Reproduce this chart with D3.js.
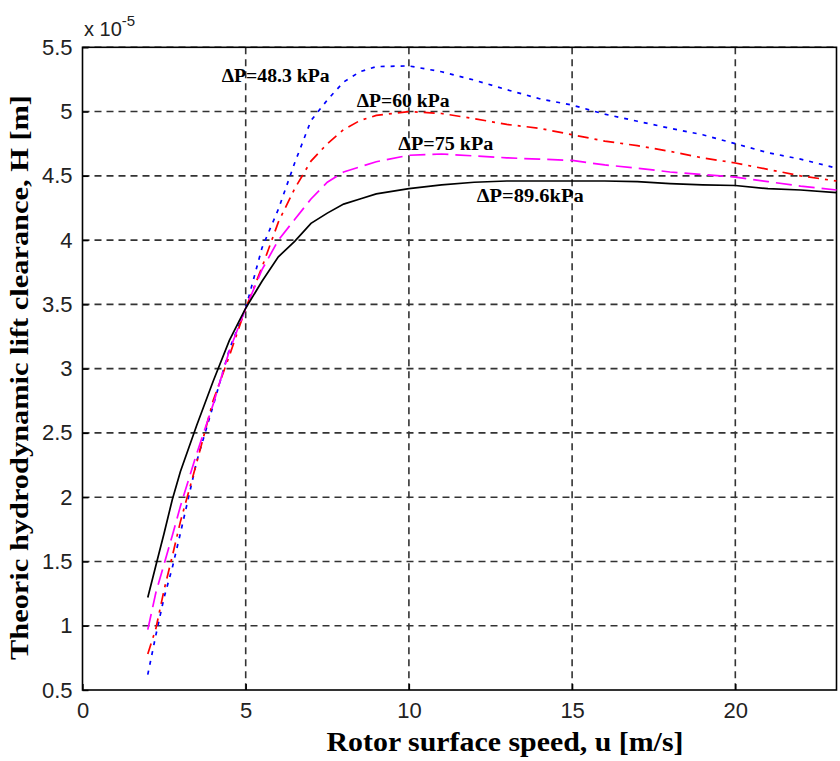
<!DOCTYPE html>
<html><head><meta charset="utf-8">
<script src="https://cdn.jsdelivr.net/npm/d3@7"></script>
<style>body{margin:0;background:#fff}</style>
</head><body>
<svg id="c" width="840" height="761"></svg>
<script>
const speed = [2, 2.25, 2.5, 2.75, 3, 3.5, 4, 4.5, 5, 5.5, 6, 6.5, 7, 7.5, 8, 8.5, 9, 10, 11, 12, 13, 14, 15, 16, 17, 18, 19, 20, 21, 22, 23.1];
const h483 = [0.62, 0.93, 1.22, 1.45, 1.72, 2.28, 2.71, 3.15, 3.47, 3.94, 4.24, 4.60, 4.93, 5.09, 5.23, 5.31, 5.35, 5.355, 5.31, 5.245, 5.17, 5.10, 5.05, 4.98, 4.925, 4.87, 4.82, 4.75, 4.68, 4.63, 4.56];
const h60  = [0.78, 0.98, 1.28, 1.54, 1.81, 2.27, 2.75, 3.10, 3.47, 3.79, 4.14, 4.40, 4.615, 4.75, 4.86, 4.93, 4.97, 5.00, 4.985, 4.945, 4.90, 4.87, 4.82, 4.77, 4.735, 4.69, 4.64, 4.60, 4.55, 4.50, 4.46];
const h75  = [0.97, 1.26, 1.48, 1.70, 1.93, 2.34, 2.72, 3.14, 3.47, 3.77, 4.00, 4.16, 4.32, 4.45, 4.53, 4.57, 4.61, 4.66, 4.67, 4.655, 4.64, 4.63, 4.62, 4.585, 4.56, 4.53, 4.51, 4.49, 4.455, 4.42, 4.39];
const h896 = [1.22, 1.47, 1.72, 1.98, 2.20, 2.56, 2.90, 3.22, 3.47, 3.68, 3.87, 3.99, 4.13, 4.21, 4.28, 4.32, 4.36, 4.40, 4.43, 4.45, 4.46, 4.46, 4.46, 4.46, 4.455, 4.44, 4.43, 4.425, 4.40, 4.39, 4.37];
const seriesNames = ["ΔP=48.3 kPa", "ΔP=60 kPa", "ΔP=75 kPa", "ΔP=89.6kPa"];
const xTicks = [0, 5, 10, 15, 20];
const yTicks = [0.5, 1, 1.5, 2, 2.5, 3, 3.5, 4, 4.5, 5, 5.5];
const xLabel = "Rotor surface speed, u [m/s]";
const yLabel = "Theoric hydrodynamic lift clearance, H [m]";

const svg = d3.select("#c");
const L = 82.5, R = 836.5, T = 47.3, B = 690;
const x = d3.scaleLinear().domain([0, 23.1]).range([L, R]);
const y = d3.scaleLinear().domain([0.5, 5.5]).range([B, T]);

// grid
const g = svg.append("g");
g.selectAll(".gx").data(xTicks.filter(d => d > 0)).enter().append("line")
  .attr("x1", d => x(d)).attr("x2", d => x(d)).attr("y1", T).attr("y2", B)
  .attr("stroke", "#333").attr("stroke-width", 1.6).attr("stroke-dasharray", "7,5");
g.selectAll(".gy").data(yTicks.filter(d => d > 0.5)).enter().append("line")
  .attr("x1", L).attr("x2", R).attr("y1", d => y(d)).attr("y2", d => y(d))
  .attr("stroke", "#333").attr("stroke-width", 1.6).attr("stroke-dasharray", "7,5");

// axes
const xAxis = svg.append("g").attr("transform", `translate(0,${B})`)
  .call(d3.axisBottom(x).tickValues(xTicks).tickSize(-6).tickPadding(12).tickFormat(d3.format("d")));
const yAxis = svg.append("g").attr("transform", `translate(${L},0)`)
  .call(d3.axisLeft(y).tickValues(yTicks).tickSize(-6).tickPadding(10).tickFormat(d => String(d)));
[xAxis, yAxis].forEach(a => {
  a.select(".domain").remove();
  a.selectAll("line").attr("stroke", "#000").attr("stroke-width", 1.4);
  a.selectAll("text").attr("font-family", "Liberation Sans, Arial, sans-serif")
    .attr("font-size", 22).attr("fill", "#222");
});
xAxis.selectAll("text").attr("dy", "0.71em");
// box
svg.append("rect").attr("x", L).attr("y", T).attr("width", R - L).attr("height", B - T)
  .attr("fill", "none").attr("stroke", "#000").attr("stroke-width", 1.6);

// exponent
const ex = svg.append("text").attr("x", 84).attr("y", 36)
  .attr("font-family", "Liberation Sans, Arial, sans-serif").attr("font-size", 20).attr("fill", "#222");
ex.append("tspan").text("x 10");
ex.append("tspan").attr("dy", -10).attr("font-size", 15).text("-5");

// lines
const series = [
  {v: h483, c: "#0000ff", d: "4,6"},
  {v: h60, c: "#ff0000", d: "11,6,3,6"},
  {v: h75, c: "#ff00ff", d: "16,7"},
  {v: h896, c: "#000000", d: null}
];
const line = d3.line().x((d, i) => x(speed[i])).y(d => y(d));
series.forEach(s => {
  const p = svg.append("path").datum(s.v).attr("d", line)
    .attr("fill", "none").attr("stroke", s.c).attr("stroke-width", 1.7);
  if (s.d) p.attr("stroke-dasharray", s.d);
});

// annotations
const ann = [
  {t: seriesNames[0], x: 221.7, y: 81.5, w: 108},
  {t: seriesNames[1], x: 356.7, y: 106.5, w: 93},
  {t: seriesNames[2], x: 398.3, y: 150, w: 95},
  {t: seriesNames[3], x: 476.7, y: 201.5, w: 107}
];
ann.forEach(a => svg.append("text").attr("x", a.x).attr("y", a.y).text(a.t)
  .attr("font-family", "Liberation Serif, Times New Roman, serif").attr("font-weight", "bold")
  .attr("font-size", 18).attr("textLength", a.w).attr("lengthAdjust", "spacingAndGlyphs").attr("fill", "#000"));

// axis titles
svg.append("text").attr("x", 326.5).attr("y", 751).text(xLabel)
  .attr("font-family", "Liberation Serif, Times New Roman, serif").attr("font-weight", "bold")
  .attr("font-size", 27).attr("textLength", 357).attr("lengthAdjust", "spacingAndGlyphs");
svg.append("text").attr("transform", "translate(28,660) rotate(-90)").text(yLabel)
  .attr("font-family", "Liberation Serif, Times New Roman, serif").attr("font-weight", "bold")
  .attr("font-size", 26).attr("textLength", 565).attr("lengthAdjust", "spacingAndGlyphs");
</script>
</body></html>
